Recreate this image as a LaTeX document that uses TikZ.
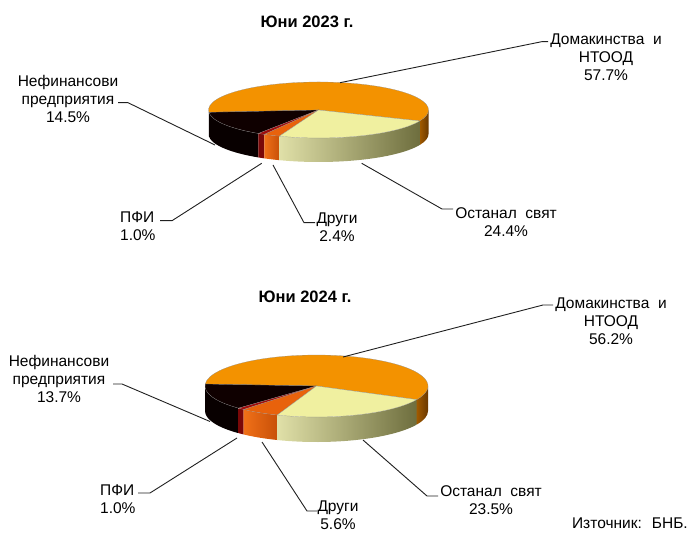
\documentclass[tikz,border=0pt]{standalone}
\usepackage{fontspec}
\setmainfont{Liberation Sans}
\usepackage{xcolor}
\definecolor{homeOrange}{HTML}{F39200}
\definecolor{homeSideL}{HTML}{A05A00}
\definecolor{homeSideR}{HTML}{6A3800}
\definecolor{nefBlack}{HTML}{0F0000}
\definecolor{nefSide}{HTML}{080000}
\definecolor{pfiRed}{HTML}{A00C0C}
\definecolor{pfiSide}{HTML}{7A0808}
\definecolor{otherOrange}{HTML}{E8620C}
\definecolor{otherSideL}{HTML}{F07018}
\definecolor{otherSideR}{HTML}{C85008}
\definecolor{worldYellow}{HTML}{F0F0A0}
\definecolor{worldSideL}{HTML}{E0E0A8}
\definecolor{worldSideR}{HTML}{6E6E3E}
\definecolor{leaderGray}{HTML}{202020}
\usepackage{tikz}
\usetikzlibrary{calc}
\tikzset{
    pielabel/.style={
        font=\fontsize{15.5}{18}\selectfont,
        align=center,
        inner sep=0pt
    },
    pietitle/.style={
        font=\fontsize{16.5}{18}\selectfont\bfseries,
        inner sep=0pt
    },
    leader/.style={
        draw=leaderGray,
        line width=0.9pt
    },
    slicetop/.style={
        draw=black!45,
        line width=0.2pt
    }
}

\begin{document}
\begin{tikzpicture}[x=1pt,y=1pt]
    \useasboundingbox (0,0) rectangle (690,533);

    % Pie June 2023
    \node[pietitle] (t23) at (307,511) {Юни 2023 г.};
    \coordinate (c23) at (318.5,423);
    \foreach \a/\b/\cl/\cr in {-23/0/homeSideL/homeSideR, 180/184.72/homeSideL/homeSideL,
        184.72/236.92/nefSide/nefSide, 236.92/240.52/pfiSide/pfiSide,
        240.52/249.16/otherSideL/otherSideR, 249.16/337/worldSideL/worldSideR} {
        \shade[left color=\cl, right color=\cr] ($(c23)+(\a:110 and 28)$)
            arc[start angle=\a, end angle=\b, x radius=110, y radius=28] -- ++(0,-24)
            arc[start angle=\b, end angle=\a, x radius=110, y radius=28] -- cycle;
    }
    \foreach \a/\b/\c in {-23/184.72/homeOrange, 184.72/236.92/nefBlack,
        236.92/240.52/pfiRed, 240.52/249.16/otherOrange, 249.16/337/worldYellow} {
        \filldraw[slicetop, fill=\c] (c23) -- ($(c23)+(\a:110 and 28)$)
            arc[start angle=\a, end angle=\b, x radius=110, y radius=28] -- cycle;
    }
    \node[pielabel] (dom23) at (606,476) {Домакинства~ и\\НТООД\\57.7\%};
    \node[pielabel] (nef23) at (68,434) {Нефинансови\\предприятия\\14.5\%};
    \node[pielabel, align=left, anchor=west] (pfi23) at (120,307) {ПФИ\\1.0\%};
    \node[pielabel] (oth23) at (337,305.5) {Други\\2.4\%};
    \node[pielabel] (wld23) at (506,310.5) {Останал~ свят\\24.4\%};
    \coordinate (dom23t) at (548,491.3);   \coordinate (dom23p) at (340,450.3);
    \coordinate (nef23t) at (118,430.3);   \coordinate (nef23p) at (215,388);
    \coordinate (pfi23t) at (160,312.3);   \coordinate (pfi23p) at (261.7,369.7);
    \coordinate (oth23t) at (315,310.3);   \coordinate (oth23p) at (273,368);
    \coordinate (wld23t) at (453,324);     \coordinate (wld23p) at (361.7,369.7);
    \draw[leader] (dom23t) -- ++(-6.3,0) -- (dom23p);
    \draw[leader] (nef23t) -- ++(10,0) -- (nef23p);
    \draw[leader] (pfi23t) -- ++(12,0) -- (pfi23p);
    \draw[leader] (oth23t) -- ++(-11,0) -- (oth23p);
    \draw[leader] (wld23t) -- ++(-11,0) -- (wld23p);

    % Pie June 2024
    \node[pietitle] (t24) at (305,236) {Юни 2024 г.};
    \coordinate (c24) at (316.5,147);
    \foreach \a/\b/\cl/\cr in {-26/0/homeSideL/homeSideR,
        180/225.64/nefSide/nefSide, 225.64/229.24/pfiSide/pfiSide,
        229.24/249.4/otherSideL/otherSideR, 249.4/334/worldSideL/worldSideR} {
        \shade[left color=\cl, right color=\cr] ($(c24)+(\a:111.5 and 31)$)
            arc[start angle=\a, end angle=\b, x radius=111.5, y radius=31] -- ++(0,-25)
            arc[start angle=\b, end angle=\a, x radius=111.5, y radius=31] -- cycle;
    }
    \foreach \a/\b/\c in {-26/176.32/homeOrange, 176.32/225.64/nefBlack,
        225.64/229.24/pfiRed, 229.24/249.4/otherOrange, 249.4/334/worldYellow} {
        \filldraw[slicetop, fill=\c] (c24) -- ($(c24)+(\a:111.5 and 31)$)
            arc[start angle=\a, end angle=\b, x radius=111.5, y radius=31] -- cycle;
    }
    \node[pielabel] (dom24) at (611,211.5) {Домакинства~ и\\НТООД\\56.2\%};
    \node[pielabel] (nef24) at (59,154.5) {Нефинансови\\предприятия\\13.7\%};
    \node[pielabel, align=left, anchor=west] (pfi24) at (100,34) {ПФИ\\1.0\%};
    \node[pielabel] (oth24) at (338,18) {Други\\5.6\%};
    \node[pielabel] (wld24) at (491,33) {Останал~ свят\\23.5\%};
    \coordinate (dom24t) at (553,228);     \coordinate (dom24p) at (343,176);
    \coordinate (nef24t) at (113,149);     \coordinate (nef24p) at (210,111.5);
    \coordinate (pfi24t) at (138,40);      \coordinate (pfi24p) at (237,95);
    \coordinate (oth24t) at (317,22);      \coordinate (oth24p) at (262,91);
    \coordinate (wld24t) at (438,37);      \coordinate (wld24p) at (363,93);
    \draw[leader] (dom24t) -- ++(-10,0) -- (dom24p);
    \draw[leader] (nef24t) -- ++(9,0) -- (nef24p);
    \draw[leader] (pfi24t) -- ++(12,0) -- (pfi24p);
    \draw[leader] (oth24t) -- ++(-10,0) -- (oth24p);
    \draw[leader] (wld24t) -- ++(-11,0) -- (wld24p);

    % Source
    \node[pielabel, anchor=east] (src) at (688,10) {Източник:~ БНБ.};
\end{tikzpicture}
\end{document}
